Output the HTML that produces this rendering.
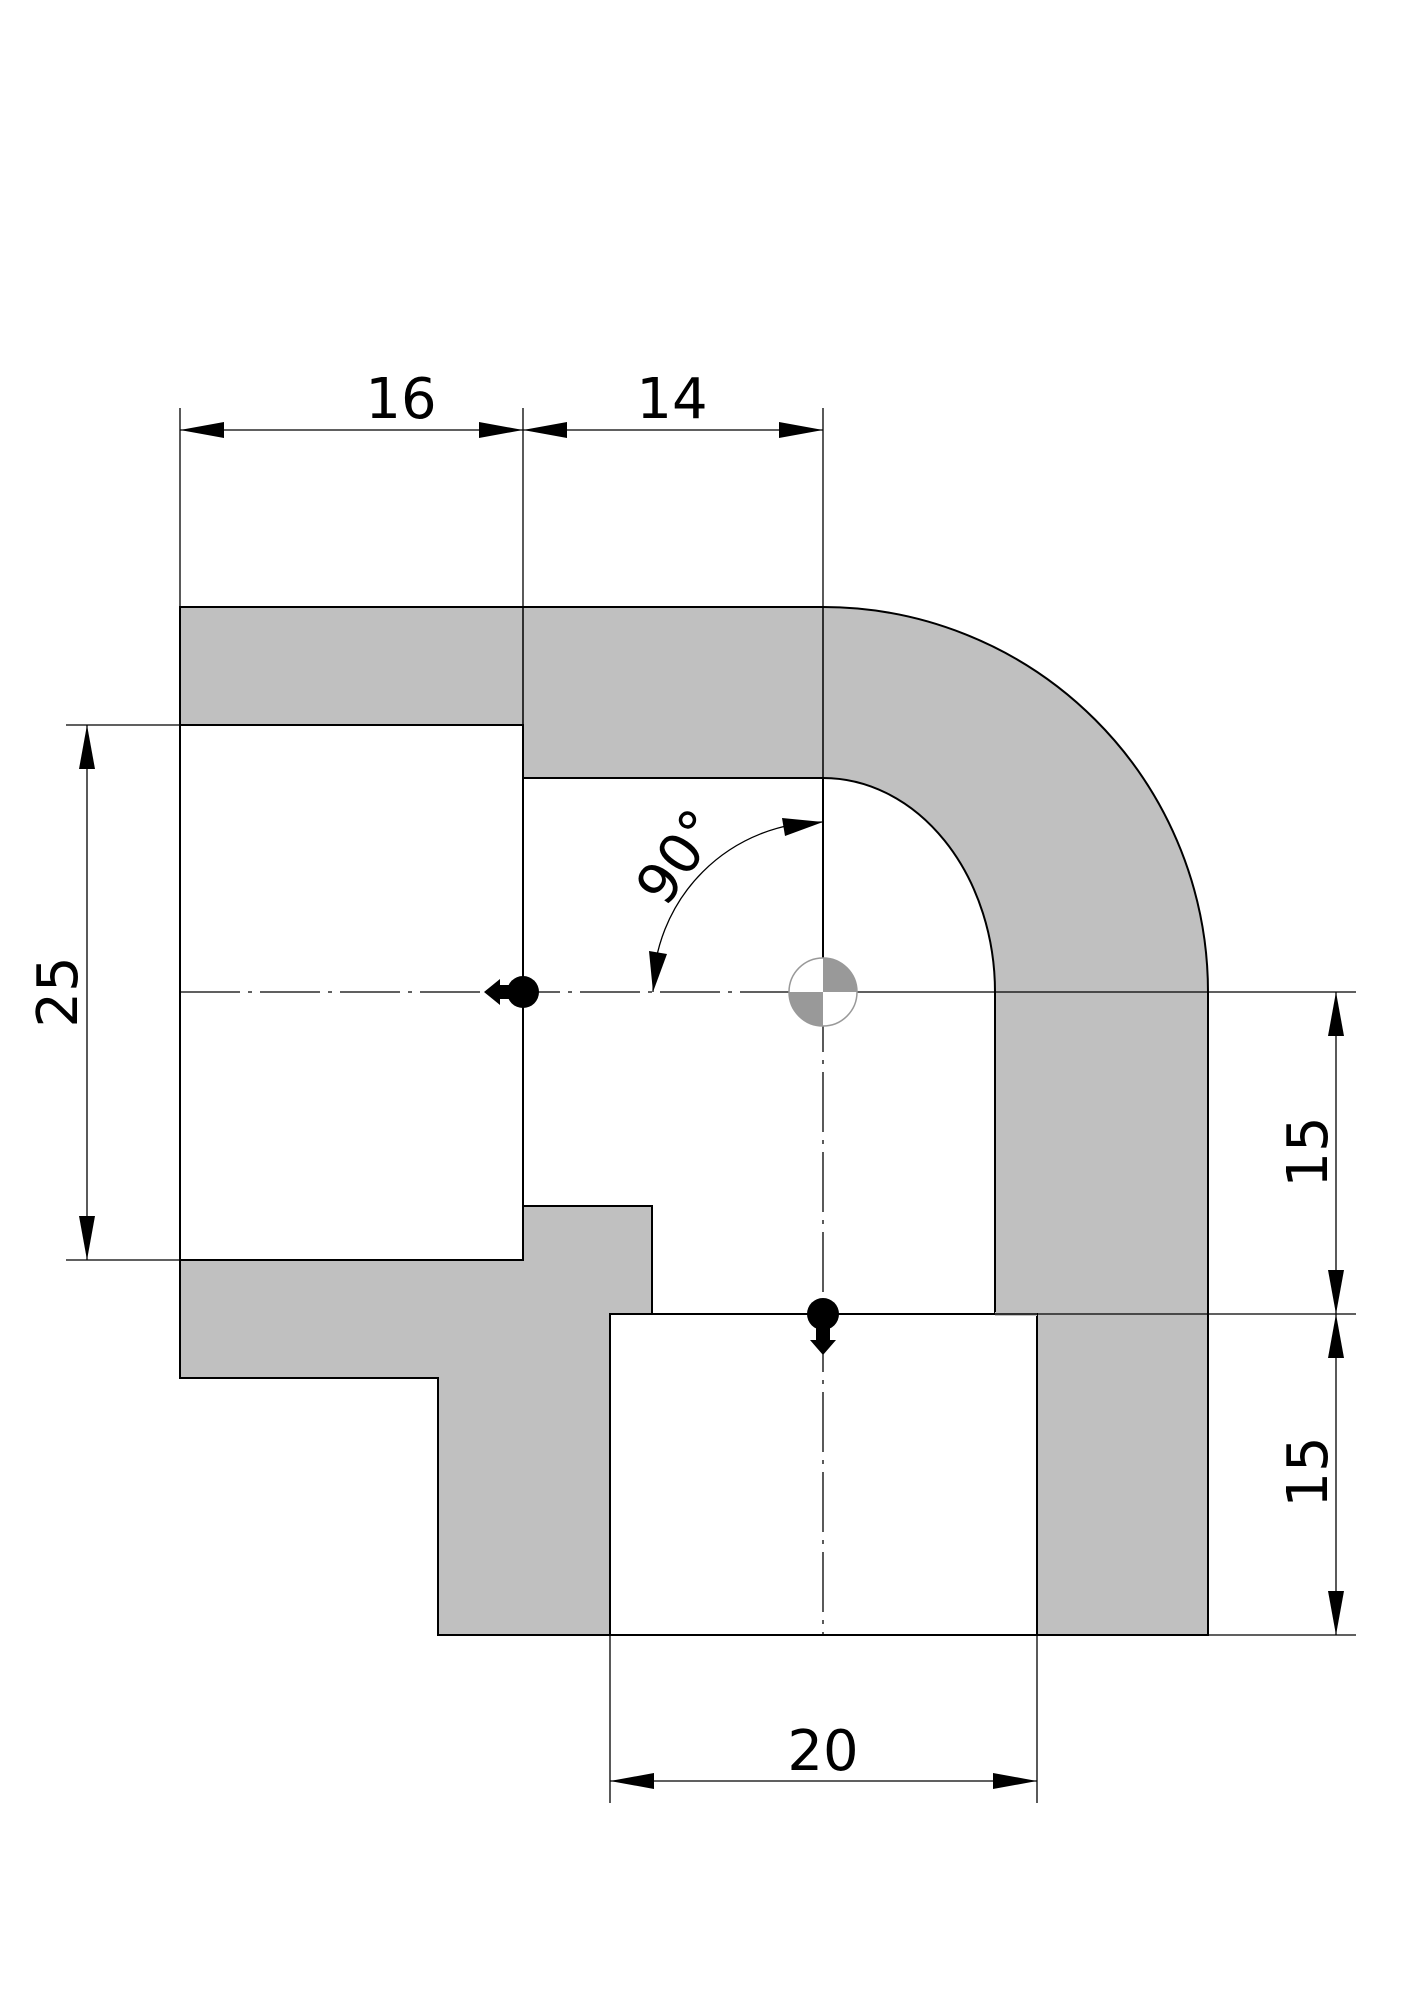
<!DOCTYPE html>
<html><head><meta charset="utf-8"><style>html,body{margin:0;padding:0;background:#fff}svg{display:block}</style></head>
<body>
<svg width="1414" height="2000" viewBox="0 0 1414 2000" xmlns="http://www.w3.org/2000/svg" font-family="'DejaVu Sans','Liberation Sans',sans-serif">
<rect width="1414" height="2000" fill="#fff"/>
<path d="M180,607 L823,607 A385,385 0 0 1 1208,992 L1208,1635 L438,1635 L438,1378 L180,1378 Z" fill="#c0c0c0" stroke="#000" stroke-width="2"/>
<path d="M523,778 L823,778 A172,214 0 0 1 995,992 L995,1314 L652,1314 L652,1206 L523,1206 Z" fill="#fff" stroke="#000" stroke-width="2"/>
<rect x="180" y="725" width="343" height="535" fill="#fff" stroke="#000" stroke-width="2"/>
<rect x="610" y="1314" width="427" height="321" fill="#fff" stroke="#000" stroke-width="2"/>
<rect x="995" y="1312" width="42" height="4" fill="#c0c0c0"/>
<line x1="995" y1="1314" x2="1037" y2="1314" stroke="#000" stroke-width="1.5"/>
<line x1="523" y1="607" x2="523" y2="778" stroke="#000" stroke-width="1.5"/>
<line x1="823" y1="607" x2="823" y2="778" stroke="#000" stroke-width="1.5"/>
<line x1="180" y1="992" x2="823" y2="992" stroke="#000" stroke-width="1.3" stroke-dasharray="60,8,4,8"/>
<line x1="823" y1="992" x2="1356" y2="992" stroke="#000" stroke-width="1.3"/>
<line x1="823" y1="778" x2="823" y2="992" stroke="#000" stroke-width="2"/>
<line x1="823" y1="992" x2="823" y2="1635" stroke="#000" stroke-width="1.3" stroke-dasharray="60,8,4,8"/>
<circle cx="823" cy="992" r="34" fill="#fff" stroke="#999" stroke-width="1.5"/>
<path d="M823,992 L823,958 A34,34 0 0 1 857,992 Z" fill="#999"/>
<path d="M823,992 L823,1026 A34,34 0 0 1 789,992 Z" fill="#999"/>
<circle cx="523" cy="992" r="16" fill="#000"/>
<path d="M510,985 L500,985 L500,979 L484,992 L500,1005 L500,999 L510,999 Z" fill="#000"/>
<circle cx="823" cy="1314" r="16" fill="#000"/>
<path d="M816,1327 L816,1340 L810,1340 L823,1355 L836,1340 L830,1340 L830,1327 Z" fill="#000"/>
<g stroke="#000" stroke-width="1.3">
<line x1="180" y1="408" x2="180" y2="607"/><line x1="523" y1="408" x2="523" y2="607"/><line x1="823" y1="408" x2="823" y2="607"/>
<line x1="180" y1="430" x2="823" y2="430"/>
<line x1="66" y1="725" x2="180" y2="725"/><line x1="66" y1="1260" x2="180" y2="1260"/>
<line x1="87" y1="725" x2="87" y2="1260"/>
<line x1="1037" y1="1314" x2="1356" y2="1314"/><line x1="1208" y1="1635" x2="1356" y2="1635"/>
<line x1="1336" y1="992" x2="1336" y2="1635"/>
<line x1="610" y1="1635" x2="610" y2="1803"/><line x1="1037" y1="1635" x2="1037" y2="1803"/>
<line x1="610" y1="1781" x2="1037" y2="1781"/>
</g>
<g fill="#000">
<path d="M180,430 L224,422 L224,438 Z"/><path d="M523,430 L479,422 L479,438 Z"/>
<path d="M523,430 L567,422 L567,438 Z"/><path d="M823,430 L779,422 L779,438 Z"/>
<path d="M87,725 L79,769 L95,769 Z"/><path d="M87,1260 L79,1216 L95,1216 Z"/>
<path d="M1336,992 L1328,1036 L1344,1036 Z"/><path d="M1336,1314 L1328,1270 L1344,1270 Z"/>
<path d="M1336,1314 L1328,1358 L1344,1358 Z"/><path d="M1336,1635 L1328,1591 L1344,1591 Z"/>
<path d="M610,1781 L654,1773 L654,1789 Z"/><path d="M1037,1781 L993,1773 L993,1789 Z"/>
</g>
<path d="M653,992 A170,170 0 0 1 823,822" fill="none" stroke="#000" stroke-width="1.3"/>
<path d="M823,822 L782,818 L785,836 Z" fill="#000"/>
<path d="M653,992 L649,951 L667,954 Z" fill="#000"/>
<g font-size="56" fill="#000" text-anchor="middle">
<text x="401" y="418">16</text>
<text x="672" y="418">14</text>
<text x="823" y="1770">20</text>
<text transform="translate(77,992) rotate(-90)">25</text>
<text transform="translate(1327,1152) rotate(-90)">15</text>
<text transform="translate(1327,1472) rotate(-90)">15</text>
<text transform="translate(694,868) rotate(-55)">90°</text>
</g>
</svg>
</body></html>
